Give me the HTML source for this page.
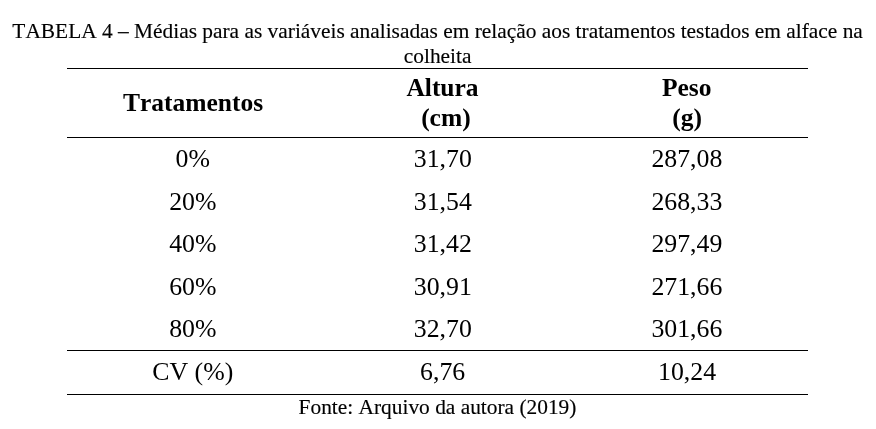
<!DOCTYPE html>
<html lang="pt-BR">
<head>
<meta charset="utf-8">
<title>Tabela 4</title>
<style>
html, body { margin:0; padding:0; background:#fff; }
body {
  width:876px; height:429px; position:relative; overflow:hidden;
  font-family:"Liberation Serif", serif; color:#000;
  font-kerning:none; font-variant-ligatures:none;
  -webkit-font-smoothing:antialiased;
}
#page { position:absolute; left:0; top:0; width:876px; height:429px; will-change:transform; }
.t { position:absolute; width:1000px; text-align:center; white-space:nowrap; line-height:30px; }
.s { font-size:21.38px; -webkit-text-stroke:0.15px #000; }
.b { font-size:25.8px; }
.h { font-size:25.5px; font-weight:bold; }
.r { position:absolute; left:67px; width:741px; height:1px; background:#000; }
</style>
</head>
<body>
<div id="page">
<div class="r" style="top:68px"></div>
<div class="r" style="top:137px"></div>
<div class="r" style="top:350px"></div>
<div class="r" style="top:394px"></div>
<div class="t s" style="left:-62.40px;top:16px">TABELA 4 – Médias para as variáveis analisadas em relação aos tratamentos testados em alface na</div>
<div class="t s" style="left:-62.40px;top:41px">colheita</div>
<div class="t h" style="left:-307.00px;top:88px">Tratamentos</div>
<div class="t h" style="left:-57.50px;top:73px">Altura</div>
<div class="t h" style="left:-54.10px;top:103px">(cm)</div>
<div class="t h" style="left:186.75px;top:73px">Peso</div>
<div class="t h" style="left:187.10px;top:103px">(g)</div>
<div class="t b" style="left:-307.20px;top:144px">0%</div>
<div class="t b" style="left:-57.20px;top:144px">31,70</div>
<div class="t b" style="left:186.90px;top:144px">287,08</div>
<div class="t b" style="left:-307.20px;top:187px">20%</div>
<div class="t b" style="left:-57.20px;top:187px">31,54</div>
<div class="t b" style="left:186.90px;top:187px">268,33</div>
<div class="t b" style="left:-307.20px;top:229px">40%</div>
<div class="t b" style="left:-57.20px;top:229px">31,42</div>
<div class="t b" style="left:186.90px;top:229px">297,49</div>
<div class="t b" style="left:-307.20px;top:272px">60%</div>
<div class="t b" style="left:-57.20px;top:272px">30,91</div>
<div class="t b" style="left:186.90px;top:272px">271,66</div>
<div class="t b" style="left:-307.20px;top:314px">80%</div>
<div class="t b" style="left:-57.20px;top:314px">32,70</div>
<div class="t b" style="left:186.90px;top:314px">301,66</div>
<div class="t b" style="left:-307.20px;top:357px">CV (%)</div>
<div class="t b" style="left:-57.40px;top:357px">6,76</div>
<div class="t b" style="left:187.10px;top:357px">10,24</div>
<div class="t s" style="left:-62.50px;top:392px">Fonte: Arquivo da autora (2019)</div>
</div>
</body>
</html>
